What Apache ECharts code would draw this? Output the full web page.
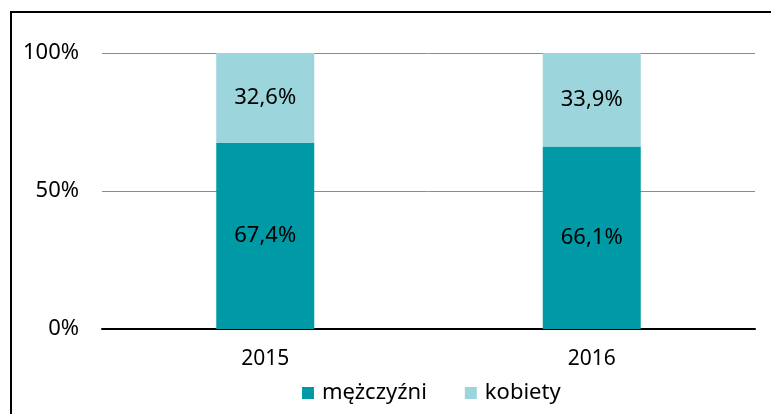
<!DOCTYPE html>
<html>
<head>
<meta charset="utf-8">
<script src="https://cdn.jsdelivr.net/npm/echarts@6/dist/echarts.min.js"></script>
<style>
  html, body { margin: 0; padding: 0; background: #fff; }
  #chart { width: 771px; height: 414px; }
</style>
</head>
<body>
<div id="chart"></div>
<script>
const years = ["2015", "2016"]
const men = [67.4, 66.1]
const women = [32.6, 33.9]
const yTicks = [0, 50, 100]

const fmt = (v) => v.toFixed(1).replace(".", ",") + "%"
const font = "Noto Sans"

const chart = echarts.init(document.getElementById("chart"))

chart.setOption({
  animation: false,
  textStyle: { fontFamily: font },
  graphic: [
    {
      type: "rect",
      shape: { x: 11, y: 12, width: 820, height: 500 },
      style: { fill: "none", stroke: "#000", lineWidth: 2 },
    },
  ],
  grid: { left: 102, right: 16, top: 53, bottom: 85 },
  legend: {
    left: 297,
    top: 377,
    itemWidth: 12,
    itemHeight: 12,
    itemGap: 38,
    icon: "rect",
    textStyle: { fontSize: 22, color: "#000", fontFamily: font, padding: [0, 0, 0, 3] },
    data: ["mężczyźni", "kobiety"],
  },
  xAxis: {
    type: "category",
    data: years,
    axisLine: { lineStyle: { color: "#000", width: 2 } },
    axisTick: { show: false },
    axisLabel: { fontSize: 21, color: "#000", margin: 20 },
  },
  yAxis: {
    type: "value",
    min: yTicks[0],
    max: yTicks[yTicks.length - 1],
    interval: 50,
    axisLine: { show: false },
    axisTick: { show: false },
    splitLine: { lineStyle: { color: "#8c8c8c", width: 1 } },
    axisLabel: { fontSize: 22, color: "#000", margin: 23, formatter: (v) => v + "%" },
  },
  series: [
    {
      name: "mężczyźni",
      type: "bar",
      stack: "a",
      barWidth: 98,
      data: men,
      itemStyle: { color: "#009aa6" },
      label: { show: true, fontSize: 22, color: "#000", formatter: (p) => fmt(p.value) },
    },
    {
      name: "kobiety",
      type: "bar",
      stack: "a",
      barWidth: 98,
      data: women,
      itemStyle: { color: "#9dd5dc" },
      label: { show: true, fontSize: 22, color: "#000", formatter: (p) => fmt(p.value) },
    },
  ],
})
</script>
</body>
</html>
